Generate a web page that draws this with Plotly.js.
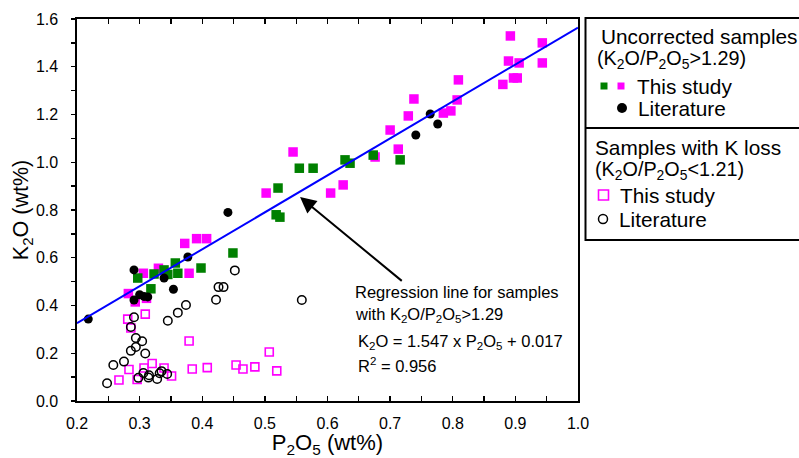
<!DOCTYPE html>
<html>
<head>
<meta charset="utf-8">
<script src="https://cdn.plot.ly/plotly-3.0.1.min.js"></script>
<style>html,body{margin:0;padding:0;background:#fff;}#chart{width:799px;height:458px;}</style>
</head>
<body>
<div id="chart"></div>
<script>
// Uncorrected samples (K2O/P2O5 > 1.29), this study — green
const greenP2O5 = [0.297, 0.318, 0.323, 0.339, 0.345, 0.357, 0.361, 0.398, 0.449, 0.518, 0.524, 0.521, 0.555, 0.577, 0.628, 0.636, 0.673, 0.716];
const greenK2O  = [0.515, 0.470, 0.532, 0.549, 0.530, 0.578, 0.535, 0.557, 0.620, 0.780, 0.770, 0.892, 0.975, 0.975, 1.010, 0.996, 1.030, 1.010];
// Uncorrected samples, this study — magenta
const magentaP2O5 = [0.282, 0.293, 0.306, 0.311, 0.330, 0.372, 0.379, 0.391, 0.407, 0.502, 0.545, 0.605, 0.625, 0.676, 0.700, 0.713, 0.729, 0.738, 0.785, 0.797, 0.807, 0.809, 0.880, 0.889, 0.892, 0.897, 0.903, 0.906, 0.943, 0.943];
const magentaK2O  = [0.450, 0.415, 0.535, 0.430, 0.556, 0.660, 0.535, 0.680, 0.680, 0.871, 1.043, 0.871, 0.905, 1.022, 1.135, 1.055, 1.194, 1.265, 1.206, 1.215, 1.261, 1.345, 1.326, 1.424, 1.529, 1.353, 1.353, 1.416, 1.500, 1.416];
// Uncorrected samples, literature — black filled circles
const litP2O5 = [0.218, 0.291, 0.291, 0.300, 0.307, 0.313, 0.339, 0.354, 0.377, 0.441, 0.741, 0.764, 0.776];
const litK2O  = [0.343, 0.549, 0.423, 0.445, 0.438, 0.436, 0.515, 0.468, 0.603, 0.790, 1.114, 1.202, 1.160];
// Samples with K loss (K2O/P2O5 < 1.21), this study — open magenta squares
const lossP2O5 = [0.281, 0.286, 0.309, 0.267, 0.283, 0.296, 0.307, 0.320, 0.339, 0.351, 0.379, 0.384, 0.408, 0.454, 0.465, 0.484, 0.507, 0.519];
const lossK2O  = [0.343, 0.306, 0.364, 0.088, 0.132, 0.090, 0.138, 0.157, 0.138, 0.105, 0.251, 0.134, 0.140, 0.151, 0.134, 0.143, 0.205, 0.126];
// Samples with K loss, literature — open black circles
const lossLitP2O5 = [0.248, 0.258, 0.275, 0.286, 0.294, 0.304, 0.309, 0.286, 0.291, 0.294, 0.298, 0.306, 0.315, 0.314, 0.328, 0.332, 0.335, 0.344, 0.345, 0.361, 0.374, 0.422, 0.426, 0.434, 0.452, 0.559];
const lossLitK2O  = [0.074, 0.151, 0.165, 0.210, 0.226, 0.250, 0.199, 0.310, 0.351, 0.264, 0.097, 0.117, 0.108, 0.098, 0.092, 0.116, 0.125, 0.113, 0.336, 0.370, 0.402, 0.424, 0.477, 0.477, 0.547, 0.423];
// Regression line end points (K2O = 1.547 x P2O5 + 0.017)
const regP2O5 = [0.2, 1.0];
const regK2O  = [0.326, 1.564];

const FONT = 'Liberation Sans, Arial, Helvetica, sans-serif';

const traces = [
  {x: lossP2O5, y: lossK2O, type: 'scatter', mode: 'markers', name: 'K loss, this study',
   marker: {symbol: 'square-open', size: 8, color: '#ff00ff', line: {width: 1.6}}},
  {x: lossLitP2O5, y: lossLitK2O, type: 'scatter', mode: 'markers', name: 'K loss, literature',
   marker: {symbol: 'circle-open', size: 8.5, color: '#000000', line: {width: 1.5}}},
  {x: magentaP2O5, y: magentaK2O, type: 'scatter', mode: 'markers', name: 'This study (magenta)',
   marker: {symbol: 'square', size: 9.5, color: '#ff00ff'}},
  {x: greenP2O5, y: greenK2O, type: 'scatter', mode: 'markers', name: 'This study (green)',
   marker: {symbol: 'square', size: 9.5, color: '#008000'}},
  {x: litP2O5, y: litK2O, type: 'scatter', mode: 'markers', name: 'Literature',
   marker: {symbol: 'circle', size: 9, color: '#000000'}},
  {x: regP2O5, y: regK2O, type: 'scatter', mode: 'lines', name: 'Regression',
   line: {color: '#0000ff', width: 2}}
];

// paper coordinate helpers for legend box (plot area: x 77..578, y 19..401 px)
const px = v => (v - 77) / 501;
const py = v => (401 - v) / 382;

const legendTexts = [
  {t: 'Uncorrected samples', x: 599, y: 36, s: 20.8},
  {t: '(K<sub>2</sub>O/P<sub>2</sub>O<sub>5</sub>&gt;1.29)', x: 595, y: 59, s: 19.8},
  {t: 'This study', x: 635, y: 86, s: 20.8},
  {t: 'Literature', x: 636, y: 108, s: 20.8},
  {t: 'Samples with K loss', x: 593, y: 147, s: 20.8},
  {t: '(K<sub>2</sub>O/P<sub>2</sub>O<sub>5</sub>&lt;1.21)', x: 593, y: 170, s: 19.8},
  {t: 'This study', x: 618, y: 195, s: 20.8},
  {t: 'Literature', x: 617, y: 219, s: 20.8}
];

const annotations = legendTexts.map(o => ({
  text: o.t, xref: 'paper', yref: 'paper', x: px(o.x), y: py(o.y),
  xanchor: 'left', yanchor: 'middle', showarrow: false,
  font: {family: FONT, size: o.s, color: '#000'}
}));

const noteFont = {family: FONT, size: 16.5, color: '#000'};
annotations.push(
  {text: 'Regression line for samples', xref: 'x', yref: 'y', x: 0.6410, y: 0.456, xanchor: 'left', yanchor: 'middle', showarrow: false, font: noteFont},
  {text: 'with K<sub>2</sub>O/P<sub>2</sub>O<sub>5</sub>&gt;1.29', xref: 'x', yref: 'y', x: 0.6410, y: 0.360, xanchor: 'left', yanchor: 'middle', showarrow: false, font: noteFont},
  {text: 'K<sub>2</sub>O = 1.547 x P<sub>2</sub>O<sub>5</sub> + 0.017', xref: 'x', yref: 'y', x: 0.6450, y: 0.248, xanchor: 'left', yanchor: 'middle', showarrow: false, font: noteFont},
  {text: 'R<sup>2</sup> = 0.956', xref: 'x', yref: 'y', x: 0.6450, y: 0.152, xanchor: 'left', yanchor: 'middle', showarrow: false, font: noteFont},
  {text: '', xref: 'x', yref: 'y', x: 0.5562, y: 0.854, axref: 'x', ayref: 'y', ax: 0.721, ay: 0.498,
   showarrow: true, arrowhead: 2, arrowsize: 1.6, arrowwidth: 2, arrowcolor: '#000', standoff: 0, startstandoff: 0}
);

const frame = {color: '#000', width: 2};
const shapes = [
  // legend frame (open to the right, as in the reference)
  {type: 'line', xref: 'paper', yref: 'paper', x0: px(585.5), x1: px(900), y0: py(18), y1: py(18), line: frame},
  {type: 'line', xref: 'paper', yref: 'paper', x0: px(585.5), x1: px(900), y0: py(240), y1: py(240), line: frame},
  {type: 'line', xref: 'paper', yref: 'paper', x0: px(585.5), x1: px(585.5), y0: py(17), y1: py(241), line: frame},
  // divider
  {type: 'line', xref: 'paper', yref: 'paper', x0: px(585.5), x1: px(900), y0: py(128), y1: py(128), line: frame},
  // legend keys
  {type: 'rect', xref: 'paper', yref: 'paper', xsizemode: 'pixel', ysizemode: 'pixel', xanchor: px(604), yanchor: py(86), x0: -3.5, x1: 3.5, y0: -3.5, y1: 3.5, fillcolor: '#008000', line: {width: 0}},
  {type: 'rect', xref: 'paper', yref: 'paper', xsizemode: 'pixel', ysizemode: 'pixel', xanchor: px(621), yanchor: py(86), x0: -3.5, x1: 3.5, y0: -3.5, y1: 3.5, fillcolor: '#ff00ff', line: {width: 0}},
  {type: 'circle', xref: 'paper', yref: 'paper', xsizemode: 'pixel', ysizemode: 'pixel', xanchor: px(622), yanchor: py(108), x0: -5, x1: 5, y0: -5, y1: 5, fillcolor: '#000', line: {width: 0}},
  {type: 'rect', xref: 'paper', yref: 'paper', xsizemode: 'pixel', ysizemode: 'pixel', xanchor: px(603.5), yanchor: py(195), x0: -5, x1: 5, y0: -5, y1: 5, fillcolor: 'rgba(0,0,0,0)', line: {color: '#ff00ff', width: 1.6}},
  {type: 'circle', xref: 'paper', yref: 'paper', xsizemode: 'pixel', ysizemode: 'pixel', xanchor: px(603), yanchor: py(219), x0: -4.5, x1: 4.5, y0: -4.5, y1: 4.5, fillcolor: 'rgba(0,0,0,0)', line: {color: '#000', width: 1.5}}
];

const layout = {
  width: 799, height: 458,
  margin: {l: 77, r: 221, t: 19, b: 57, pad: 0},
  paper_bgcolor: '#fff', plot_bgcolor: '#fff',
  showlegend: false,
  font: {family: FONT, color: '#000', size: 16},
  xaxis: {
    range: [0.2, 1.0], tick0: 0, dtick: 0.1, tickformat: '.1f',
    ticks: 'inside', ticklen: 5, tickwidth: 1.3, tickcolor: '#000', ticklabelstandoff: 7,
    minor: {dtick: 0.05, ticks: 'inside', ticklen: 5, tickwidth: 1.3, tickcolor: '#000'},
    showline: true, linewidth: 1.6, linecolor: '#000', mirror: 'ticks',
    showgrid: false, zeroline: false,
    tickfont: {family: FONT, size: 16, color: '#000'},
    title: {text: 'P<sub>2</sub>O<sub>5</sub> (wt%)', font: {family: FONT, size: 22, color: '#000'}, standoff: 12}
  },
  yaxis: {
    range: [0, 1.6], tick0: 0, dtick: 0.2, tickformat: '.1f',
    ticks: 'outside', ticklen: 4, tickwidth: 1.3, tickcolor: '#000', ticklabelstandoff: 10,
    minor: {dtick: 0.1, ticks: 'outside', ticklen: 4, tickwidth: 1.3, tickcolor: '#000'},
    showline: true, linewidth: 1.6, linecolor: '#000', mirror: true,
    showgrid: false, zeroline: false,
    tickfont: {family: FONT, size: 16, color: '#000'},
    title: {text: 'K<sub>2</sub>O (wt%)', font: {family: FONT, size: 21.5, color: '#000'}, standoff: 1}
  },
  yaxis2: {
    overlaying: 'y', side: 'right', range: [0, 1.6], dtick: 0.1, tick0: 0,
    ticks: 'inside', ticklen: 5, tickwidth: 1.3, tickcolor: '#000',
    showticklabels: false, showline: false, showgrid: false, zeroline: false
  },
  annotations: annotations,
  shapes: shapes
};

Plotly.newPlot('chart', traces, layout, {displayModeBar: false, staticPlot: true});
</script>
</body>
</html>
